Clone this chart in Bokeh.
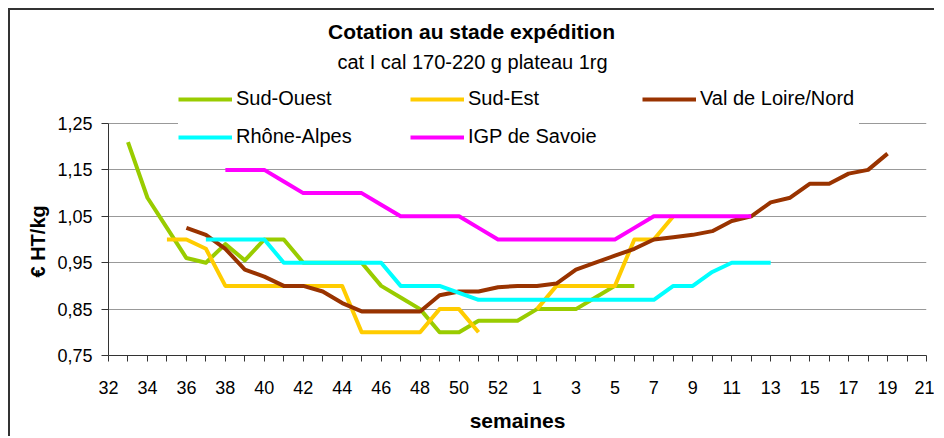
import numpy as np
from bokeh.plotting import figure
from bokeh.models import (Range1d, FixedTicker, CustomJSTickFormatter, Legend,
                          LegendItem, Label, Title)
from bokeh.embed import file_html
from bokeh.resources import INLINE

nan = float("nan")

# ---- data -------------------------------------------------------------
weeks = [32, 33, 34, 35, 36, 37, 38, 39, 40, 41, 42, 43, 44, 45, 46, 47, 48,
         49, 50, 51, 52, 53, 1, 2, 3, 4, 5, 6, 7, 8, 9, 10, 11, 12, 13, 14,
         15, 16, 17, 18, 19, 20, 21]

sud_ouest = [nan, 1.21, 1.09, 1.025, 0.96, 0.95, 0.99, 0.955, 1.00, 1.00,
             0.95, 0.95, 0.95, 0.95, 0.90, 0.875, 0.85, 0.80, 0.80, 0.825,
             0.825, 0.825, 0.85, 0.85, 0.85, 0.875, 0.90, 0.90, nan, nan,
             nan, nan, nan, nan, nan, nan, nan, nan, nan, nan, nan, nan, nan]

sud_est = [nan, nan, nan, 1.00, 1.00, 0.98, 0.90, 0.90, 0.90, 0.90, 0.90,
           0.90, 0.90, 0.80, 0.80, 0.80, 0.80, 0.85, 0.85, 0.80, nan, nan,
           0.85, 0.90, 0.90, 0.90, 0.90, 1.00, 1.00, 1.05, nan, nan, nan,
           nan, nan, nan, nan, nan, nan, nan, nan, nan, nan]

val_de_loire = [nan, nan, nan, nan, 1.025, 1.01, 0.98, 0.935, 0.92, 0.90,
                0.90, 0.888, 0.863, 0.845, 0.845, 0.845, 0.845, 0.88, 0.888,
                0.888, 0.897, 0.90, 0.90, 0.905, 0.935, 0.95, 0.965, 0.98,
                1.00, 1.005, 1.01, 1.018, 1.04, 1.05, 1.08, 1.09, 1.12, 1.12,
                1.142, 1.15, 1.185, nan, nan]

rhone_alpes = [nan, nan, nan, nan, nan, 1.00, 1.00, 1.00, 1.00, 0.95, 0.95,
               0.95, 0.95, 0.95, 0.95, 0.90, 0.90, 0.90, 0.885, 0.87, 0.87,
               0.87, 0.87, 0.87, 0.87, 0.87, 0.87, 0.87, 0.87, 0.90, 0.90,
               0.93, 0.95, 0.95, 0.95, nan, nan, nan, nan, nan, nan, nan, nan]

igp_savoie = [nan, nan, nan, nan, nan, nan, 1.15, 1.15, 1.15, 1.125, 1.10,
              1.10, 1.10, 1.10, 1.075, 1.05, 1.05, 1.05, 1.05, 1.025, 1.00,
              1.00, 1.00, 1.00, 1.00, 1.00, 1.00, 1.025, 1.05, 1.05, 1.05,
              1.05, 1.05, 1.05, nan, nan, nan, nan, nan, nan, nan, nan, nan]

series_names = ["Sud-Ouest", "Sud-Est", "Val de Loire/Nord", "Rhône-Alpes",
                "IGP de Savoie"]
series_values = [sud_ouest, sud_est, val_de_loire, rhone_alpes, igp_savoie]
series_colors = ["#99CC00", "#FFCC00", "#993300", "#00FFFF", "#FF00FF"]

y_ticks = [0.75, 0.85, 0.95, 1.05, 1.15, 1.25]

title_text = "Cotation au stade expédition"
subtitle_text = "cat I cal 170-220 g plateau 1rg"
x_title = "semaines"
y_title = "€ HT/kg"

FONT = "Liberation Sans"

# ---- layout geometry (pixels) ----------------------------------------
CANVAS_W, CANVAS_H = 926, 428
BORDER_L, BORDER_R, BORDER_B = 98, 10, 83
PLOT_H = 232          # height of the 0.75 - 1.25 band
HEADROOM = CANVAS_H - BORDER_B - PLOT_H   # room for titles + legend
y_lo, y_hi = min(y_ticks), max(y_ticks)
y_top = y_hi + (y_hi - y_lo) * HEADROOM / PLOT_H

# ---- figure -----------------------------------------------------------
x = list(range(len(weeks)))

p = figure(width=CANVAS_W, height=CANVAS_H, output_backend="svg",
           toolbar_location=None, title=None,
           x_range=Range1d(0, len(weeks) - 1), y_range=Range1d(y_lo, y_top),
           min_border_left=BORDER_L, min_border_right=BORDER_R,
           min_border_top=0, min_border_bottom=BORDER_B)
p.styles = {"margin-left": "8px", "margin-top": "8px",
            "border-top": "2px solid #333333",
            "border-left": "2px solid #333333"}
p.background_fill_color = "white"
p.border_fill_color = "white"
p.outline_line_color = None

renderers = []
for vals, col in zip(series_values, series_colors):
    r = p.line(x, np.array(vals, dtype=float), line_color=col, line_width=4,
               line_join="round")
    renderers.append(r)

# axes
p.xaxis.ticker = FixedTicker(ticks=x)
p.xaxis.formatter = CustomJSTickFormatter(
    args=dict(labels=[str(w) for w in weeks]),
    code="const i = Math.round(tick); return (i % 2 == 0) ? labels[i] : '';")
p.yaxis.ticker = FixedTicker(ticks=y_ticks)
p.yaxis.formatter = CustomJSTickFormatter(
    code="return tick.toFixed(2).replace('.', ',');")
p.yaxis.bounds = (y_lo, y_hi)

for ax in (p.xaxis[0], p.yaxis[0]):
    ax.axis_line_color = "#333333"
    ax.major_tick_line_color = "#333333"
    ax.minor_tick_line_color = None
    ax.major_tick_in = 0
    ax.major_label_text_font = FONT
    ax.major_label_text_font_size = "18px"
    ax.major_label_text_color = "black"
    ax.axis_label_text_font = FONT
    ax.axis_label_text_font_style = "bold"
    ax.axis_label_text_color = "black"

p.xaxis.major_tick_out = 6
p.yaxis.major_tick_out = 7
p.xaxis.major_label_standoff = 19
p.yaxis.major_label_standoff = 9
p.xaxis.axis_label = x_title
p.xaxis.axis_label_text_font_size = "21px"
p.xaxis.axis_label_standoff = 12

p.xgrid.visible = False
p.ygrid.ticker = FixedTicker(ticks=y_ticks)
p.ygrid.grid_line_color = "#999999"
p.ygrid.grid_line_width = 1

# y title: placed in the left panel, centred on the 0.75-1.25 band
p.add_layout(Title(text=y_title, align="left", offset=78, standoff=12,
                   text_font=FONT, text_font_size="20px",
                   text_font_style="bold", text_color="black"), "left")

# titles (inside the extended frame, screen units from frame bottom-left)
p.add_layout(Label(x=363, y=324, x_units="screen", y_units="screen",
                   text=title_text, text_align="center",
                   text_baseline="middle", text_font=FONT,
                   text_font_size="21px", text_font_style="bold",
                   text_color="black"))
p.add_layout(Label(x=364, y=294, x_units="screen", y_units="screen",
                   text=subtitle_text, text_align="center",
                   text_baseline="middle", text_font=FONT,
                   text_font_size="20px", text_color="black"))

# legend
items = [LegendItem(label=n, renderers=[r])
         for n, r in zip(series_names, renderers)]
legend = Legend(items=items, location=(70, 207), orientation="horizontal",
                ncols=3, glyph_width=54, glyph_height=20, label_height=20,
                label_standoff=4, spacing=15, label_width=159, padding=6,
                margin=0, border_line_color=None,
                background_fill_color="white", background_fill_alpha=1.0,
                label_text_font=FONT, label_text_font_size="20px",
                label_text_color="black")
p.add_layout(legend, "center")

open("out.html", "w").write(file_html(p, INLINE))
